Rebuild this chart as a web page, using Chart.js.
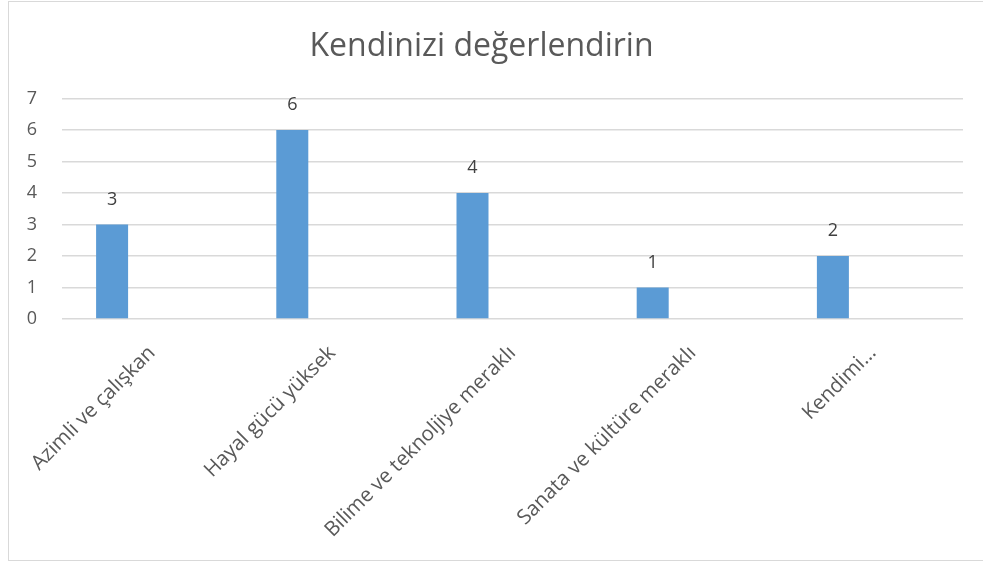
<!DOCTYPE html>
<html>
<head>
<meta charset="utf-8">
<script src="https://cdn.jsdelivr.net/npm/chart.js@4.4.0/dist/chart.umd.min.js"></script>
<style>
  html, body { margin: 0; padding: 0; background: #fff; }
  #frame {
    position: absolute; left: 8px; top: 1px; width: 1000px; height: 560px;
    border: 1px solid #d9d9d9; box-sizing: border-box;
  }
  #chart { position: absolute; left: 0; top: 0; }
</style>
</head>
<body>
<div id="frame"></div>
<canvas id="chart" width="983" height="563"></canvas>
<script>
  // chart data
  const categories = ['Azimli ve çalışkan', 'Hayal gücü yüksek', 'Bilime ve teknoljiye meraklı', 'Sanata ve kültüre meraklı', 'Kendimi…'];
  const answers = [3, 6, 4, 1, 2];
  const emptySeries = [null, null, null, null, null];
  const yTicks = [0, 1, 2, 3, 4, 5, 6, 7];

  const textColor = '#595959';
  const fontFamily = '"Open Sans", "Noto Sans", sans-serif';

  // draw the value above each bar of the first series
  const valueLabels = {
    id: 'valueLabels',
    afterDatasetsDraw(chart) {
      const ctx = chart.ctx;
      const meta = chart.getDatasetMeta(0);
      ctx.save();
      ctx.font = '18px ' + fontFamily;
      ctx.fillStyle = '#404040';
      ctx.textAlign = 'center';
      ctx.textBaseline = 'middle';
      meta.data.forEach((bar, i) => {
        if (answers[i] == null) return;
        ctx.fillText(String(answers[i]), bar.x, bar.y - 25);
      });
      ctx.restore();
    }
  };

  function renderChart() {
    const ctx = document.getElementById('chart').getContext('2d');
    new Chart(ctx, {
      type: 'bar',
      data: {
        labels: categories,
        datasets: [
          { data: answers, backgroundColor: '#5B9BD5', categoryPercentage: 0.666, barPercentage: 0.8 },
          { data: emptySeries, backgroundColor: '#ED7D31', categoryPercentage: 0.666, barPercentage: 0.8 },
          { data: emptySeries, backgroundColor: '#A5A5A5', categoryPercentage: 0.666, barPercentage: 0.8 },
        ],
      },
      options: {
        responsive: false,
        animation: false,
        layout: { padding: { left: 0, right: 20, top: 0, bottom: 0 } },
        scales: {
          x: {
            grid: { display: false },
            border: { display: false },
            ticks: {
              color: textColor,
              font: { family: fontFamily, size: 20.5 },
              maxRotation: 45,
              minRotation: 45,
              padding: 14,
            },
            afterFit(scale) { scale.height = 244; },
          },
          y: {
            min: 0,
            max: 7,
            afterBuildTicks(scale) { scale.ticks = yTicks.map(v => ({ value: v })); },
            grid: { color: '#d9d9d9', lineWidth: 1.5, drawTicks: false },
            border: { display: false },
            ticks: {
              color: textColor,
              font: { family: fontFamily, size: 18 },
              padding: 25,
            },
            afterFit(scale) { scale.width = 62; },
          },
        },
        plugins: {
          legend: { display: false },
          tooltip: { enabled: false },
          title: {
            display: true,
            text: 'Kendinizi değerlendirin',
            color: textColor,
            font: { family: fontFamily, size: 32, weight: 'normal' },
            padding: { top: 28, bottom: 32 },
          },
        },
      },
      plugins: [valueLabels],
    });
  }

  renderChart();
</script>
</body>
</html>
